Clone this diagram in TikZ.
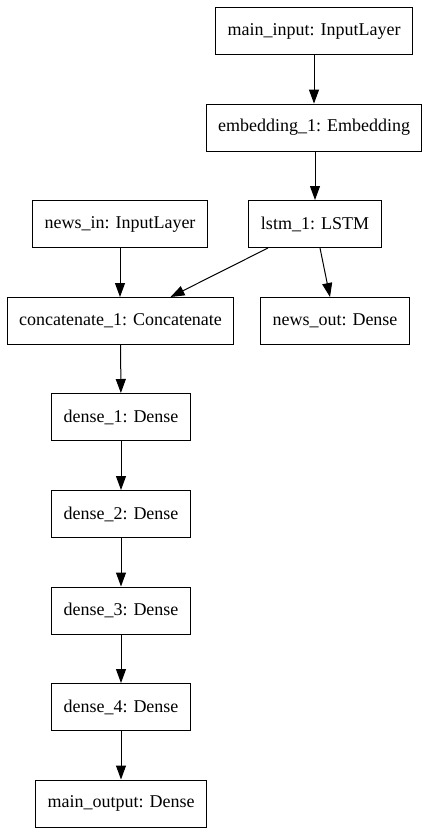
\documentclass[tikz,border=0pt]{standalone}
\usepackage{fontspec}
\setmainfont{Liberation Serif}
\usetikzlibrary{arrows.meta}
\begin{document}
\begin{tikzpicture}[x=1pt,y=-1pt,
  layer/.style={draw, line width=1pt, minimum height=47pt, inner xsep=12pt, inner ysep=0pt,
    font=\fontsize{18}{20}\selectfont},
  edge/.style={line width=1pt, -{Triangle[length=14pt,width=10pt]}}]
\useasboundingbox (0,0) rectangle (429,839);
\node[layer] (mi) at (314,31) {main\_input: InputLayer};
\node[layer] (emb) at (314,127.6) {embedding\_1: Embedding};
\node[layer] (ni) at (120,224) {news\_in: InputLayer};
\node[layer] (lstm) at (315,224) {lstm\_1: LSTM};
\node[layer] (cat) at (120.5,321) {concatenate\_1: Concatenate};
\node[layer] (no) at (335,321) {news\_out: Dense};
\node[layer] (d1) at (121,417) {dense\_1: Dense};
\node[layer] (d2) at (121,514) {dense\_2: Dense};
\node[layer] (d3) at (121,610.5) {dense\_3: Dense};
\node[layer] (d4) at (121,707) {dense\_4: Dense};
\node[layer] (mo) at (121,803.5) {main\_output: Dense};
\draw[edge] (mi) -- (emb);
\draw[edge] (emb.south -| lstm.north) -- (lstm);
\draw[edge] (ni.south) -- (ni.south |- cat.north);
\draw[edge] ([xshift=-47pt]lstm.south) -- ([xshift=50pt]cat.north);
\draw[edge] ([xshift=5pt]lstm.south) -- ([xshift=-5pt]no.north);
\draw[edge] (cat) -- (d1);
\draw[edge] (d1) -- (d2);
\draw[edge] (d2) -- (d3);
\draw[edge] (d3) -- (d4);
\draw[edge] (d4) -- (mo);
\end{tikzpicture}
\end{document}
